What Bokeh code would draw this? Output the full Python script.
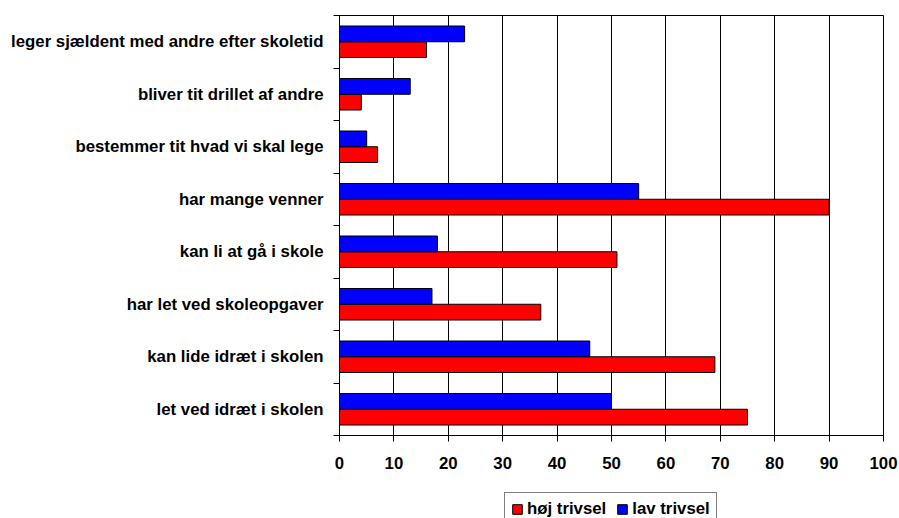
from bokeh.plotting import figure
from bokeh.layouts import column
from bokeh.models import Range1d, FixedTicker, Legend, LegendItem, ColumnDataSource
from bokeh.embed import file_html
from bokeh.resources import INLINE

# ---- data (top to bottom as in the chart) ----
categories = [
    "leger sjældent med andre efter skoletid",
    "bliver tit drillet af andre",
    "bestemmer tit hvad vi skal lege",
    "har mange venner",
    "kan li at gå i skole",
    "har let ved skoleopgaver",
    "kan lide idræt i skolen",
    "let ved idræt i skolen",
]
hoj_trivsel = [16, 4, 7, 90, 51, 37, 69, 75]
lav_trivsel = [23, 13, 5, 55, 18, 17, 46, 50]
series_names = ["høj trivsel", "lav trivsel"]
series_colors = ["#FF0000", "#0000FF"]
x_ticks = [0, 10, 20, 30, 40, 50, 60, 70, 80, 90, 100]

FONT = "Liberation Sans"
FS = "16.8px"

n = len(categories)
centers = [n - 1 - i + 0.5 for i in range(n)]
boundaries = list(range(n + 1))
bar_h = 0.3

src = ColumnDataSource(dict(
    center=centers,
    hoj=hoj_trivsel,
    lav=lav_trivsel,
    y_hoj=[c - bar_h / 2 for c in centers],
    y_lav=[c + bar_h / 2 for c in centers],
))

p = figure(width=899, height=491, output_backend="svg", toolbar_location=None,
           x_range=Range1d(x_ticks[0], x_ticks[-1]), y_range=Range1d(0, n),
           min_border_left=339, min_border_top=15, min_border_right=16,
           min_border_bottom=56)
p.background_fill_color = "white"
p.border_fill_color = "white"
p.outline_line_color = "black"
p.outline_line_width = 1

r_hoj = p.hbar(y="y_hoj", right="hoj", left=0, height=bar_h, source=src,
               fill_color=series_colors[0], line_color="black", line_width=1)
r_lav = p.hbar(y="y_lav", right="lav", left=0, height=bar_h, source=src,
               fill_color=series_colors[1], line_color="black", line_width=1)

# x axis
p.xaxis.ticker = FixedTicker(ticks=x_ticks)
p.xaxis.major_tick_out = 6
p.xaxis.major_tick_in = 0
p.xaxis.minor_tick_out = 0
p.xaxis.minor_tick_in = 0
p.xaxis.axis_line_color = "black"
p.xaxis.major_tick_line_color = "black"
p.xaxis.major_label_text_font = FONT
p.xaxis.major_label_text_font_style = "bold"
p.xaxis.major_label_text_font_size = FS
p.xaxis.major_label_text_color = "black"
p.xaxis.major_label_standoff = 15

# y axis
p.yaxis.ticker = FixedTicker(ticks=centers, minor_ticks=boundaries)
p.yaxis.major_label_overrides = {c: lab for c, lab in zip(centers, categories)}
p.yaxis.major_tick_out = 0
p.yaxis.major_tick_in = 0
p.yaxis.minor_tick_out = 6
p.yaxis.minor_tick_in = 0
p.yaxis.minor_tick_line_color = "black"
p.yaxis.axis_line_color = "black"
p.yaxis.major_label_text_font = FONT
p.yaxis.major_label_text_font_style = "bold"
p.yaxis.major_label_text_font_size = FS
p.yaxis.major_label_text_color = "black"
p.yaxis.major_label_standoff = 10

# grid
p.xgrid.ticker = FixedTicker(ticks=x_ticks)
p.xgrid.grid_line_color = "black"
p.xgrid.grid_line_width = 1
p.ygrid.grid_line_color = None

# ---- legend strip below the chart ----
q = figure(width=899, height=27, output_backend="svg", toolbar_location=None,
           x_range=Range1d(0, 1), y_range=Range1d(0, 1),
           x_axis_type=None, y_axis_type=None,
           min_border_left=0, min_border_right=0, min_border_top=0,
           min_border_bottom=0)
q.outline_line_color = None
q.background_fill_color = "white"
q.border_fill_color = "white"
# legend-key renderers: one zero-size box each, kept outside the visible range
leg_src = ColumnDataSource(dict(y=[-5], right=[0]))
d_hoj = q.hbar(y="y", right="right", left=0, height=0, source=leg_src,
               fill_color=series_colors[0], line_color="black", line_width=1)
d_lav = q.hbar(y="y", right="right", left=0, height=0, source=leg_src,
               fill_color=series_colors[1], line_color="black", line_width=1)

legend = Legend(
    items=[LegendItem(label=series_names[0], renderers=[d_hoj]),
           LegendItem(label=series_names[1], renderers=[d_lav])],
    orientation="horizontal", location=(165, -8),
    padding=6, spacing=10, margin=0,
    glyph_width=12, glyph_height=12, label_standoff=4,
    label_text_font=FONT, label_text_font_style="bold",
    label_text_font_size=FS, label_text_color="black",
    border_line_color="black", border_line_width=1,
    background_fill_color="white", background_fill_alpha=1,
)
q.add_layout(legend)

layout = column(p, q, spacing=0)
open("out.html", "w").write(file_html(layout, INLINE))
